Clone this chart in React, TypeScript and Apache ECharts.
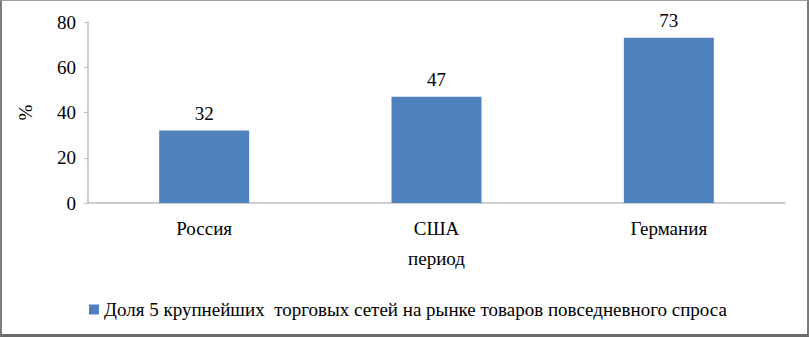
import React, { useEffect, useRef } from "react";
import * as echarts from "echarts";

const categories = ["Россия", "США", "Германия"];
const values = [32, 47, 73];
const seriesName = "Доля 5 крупнейших  торговых сетей на рынке товаров повседневного спроса";
const yTicks = [0, 20, 40, 60, 80];

const FONT = "Liberation Serif";
const FS = 19;

export default function App() {
  const ref = useRef<HTMLDivElement>(null);
  useEffect(() => {
    if (!ref.current) return;
    const chart = echarts.init(ref.current, undefined, { renderer: "svg" });
    chart.setOption({
      animation: false,
      backgroundColor: "#ffffff",
      textStyle: { fontFamily: FONT, color: "#000" },
      grid: { left: 88, right: 24, top: 22, bottom: 134 },
      legend: {
        left: 84,
        top: 295,
        itemWidth: 10,
        itemHeight: 10,
        itemGap: 4,
        icon: "rect",
        textStyle: { fontFamily: FONT, fontSize: FS, color: "#000" },
        data: [seriesName],
      },
      xAxis: {
        type: "category",
        data: categories,
        name: "период",
        nameLocation: "middle",
        nameGap: 46,
        nameTextStyle: { fontFamily: FONT, fontSize: FS, color: "#000" },
        axisLine: { lineStyle: { color: "#BFBFBF", width: 1.5 } },
        axisTick: { show: false },
        axisLabel: { fontFamily: FONT, fontSize: FS, color: "#000", margin: 16 },
      },
      yAxis: {
        type: "value",
        min: yTicks[0],
        max: yTicks[yTicks.length - 1],
        interval: 20,
        name: "%",
        nameLocation: "middle",
        nameGap: 53,
        nameRotate: 90,
        nameTextStyle: { fontFamily: FONT, fontSize: FS, color: "#000" },
        axisLine: { show: true, lineStyle: { color: "#BFBFBF", width: 1.5 } },
        axisTick: { show: true, length: 4, lineStyle: { color: "#BFBFBF" } },
        splitLine: { show: false },
        axisLabel: { fontFamily: FONT, fontSize: FS, color: "#000", margin: 12 },
      },
      series: [
        {
          name: seriesName,
          type: "bar",
          data: values,
          barWidth: 90,
          itemStyle: { color: "#4F81BD" },
          label: {
            show: true,
            position: "top",
            distance: 8,
            fontFamily: FONT,
            fontSize: FS,
            color: "#000",
          },
        },
      ],
    });
    return () => chart.dispose();
  }, []);
  return (
    <div style={{ position: "fixed", left: 0, top: 0, width: 809, height: 337 }}>
      <div ref={ref} style={{ width: 809, height: 337 }} />
      <div
        style={{
          position: "absolute",
          left: 0,
          top: 0,
          width: 809,
          height: 337,
          boxSizing: "border-box",
          borderTop: "1px solid #a0a0a0",
          borderLeft: "2px solid #7a7a7a",
          borderRight: "2px solid #7a7a7a",
          borderBottom: "3px solid #6a6a6a",
          pointerEvents: "none",
        }}
      />
    </div>
  );
}
